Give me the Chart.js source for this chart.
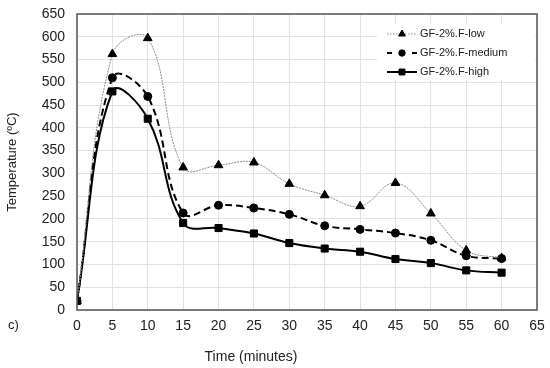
<!DOCTYPE html>
<html><head><meta charset="utf-8">
<script src="https://cdn.jsdelivr.net/npm/chart.js@4"></script>
<style>html,body{margin:0;padding:0;background:#fff}#w{width:550px;height:368px}</style>
</head><body><div id="w"><canvas id="c"></canvas></div>
<script>
const times = [0,5,10,15,20,25,30,35,40,45,50,55,60];
const lowVals = [20,562,597,313,318,324,277,252,228,279,212,131,114];
const medVals = [20,510,469,213,230,224,210,185,177,169,153,119,113];
const highVals = [20,480,420,191,180,168,147,135,128,112,103,87,82];
const seriesNames = ['GF-2%.F-low','GF-2%.F-medium','GF-2%.F-high'];
const xTicks = [0,5,10,15,20,25,30,35,40,45,50,55,60,65];
const yTicks = [0,50,100,150,200,250,300,350,400,450,500,550,600,650];
const xTitle = 'Time (minutes)';
const yTitle = 'Temperature (ºC)';
const panelLabel = 'c)';

const toPts = v => times.map((t,i)=>({x:t,y:v[i]}));
const FONT = 'Liberation Sans, Arial, sans-serif';

const datasets = [
 {label:seriesNames[0], data:toPts(lowVals), borderColor:'#8a8a8a', borderWidth:1, borderDash:[2,1],
  pointStyle:'triangle', pointRadius:5, pointBackgroundColor:'#000', pointBorderColor:'#000', pointBorderWidth:1, tension:0.4,
  legendDash:[1.5,1.5], legendRadius:4},
 {label:seriesNames[1], data:toPts(medVals), borderColor:'#000', borderWidth:2, borderDash:[7,4],
  pointStyle:'circle', pointRadius:4, pointBackgroundColor:'#000', pointBorderColor:'#000', pointBorderWidth:1, tension:0.4,
  legendDash:[5,20], legendRadius:3.2},
 {label:seriesNames[2], data:toPts(highVals), borderColor:'#000', borderWidth:2,
  pointStyle:'rect', pointRadius:5, pointBackgroundColor:'#000', pointBorderColor:'#000', pointBorderWidth:1, tension:0.4,
  legendDash:[], legendRadius:4.2}
];

const extras = {
 id:'extras',
 afterDatasetsDraw(chart){
  const ctx = chart.ctx, a = chart.chartArea;
  ctx.save();
  ctx.strokeStyle = '#555'; ctx.lineWidth = 1.5;
  ctx.strokeRect(a.left, a.top, a.right-a.left, a.bottom-a.top);
  ctx.fillStyle = '#fff';
  ctx.fillRect(377, 24, 158, 56);
  ctx.font = '11px ' + FONT;
  ctx.textBaseline = 'middle';
  chart.data.datasets.forEach((d,i)=>{
   const y = 34 + i*19;
   ctx.strokeStyle = d.borderColor; ctx.lineWidth = d.borderWidth;
   ctx.setLineDash(d.legendDash);
   ctx.beginPath(); ctx.moveTo(387,y); ctx.lineTo(417,y); ctx.stroke();
   ctx.setLineDash([]);
   ctx.fillStyle = '#000'; ctx.strokeStyle = '#000'; ctx.lineWidth = 1;
   Chart.helpers.drawPoint(ctx, {pointStyle:d.pointStyle, radius:d.legendRadius, borderWidth:1}, 402, y);
   ctx.fillStyle = '#222';
   ctx.textAlign = 'left';
   ctx.fillText(d.label, 420, y);
  });
  ctx.fillStyle = '#222';
  ctx.font = '13px ' + FONT;
  ctx.fillText(panelLabel, 8, 325);
  ctx.font = '14px ' + FONT;
  ctx.textAlign = 'center';
  ctx.fillText(xTitle, 251, 357);
  ctx.restore();
 }
};

new Chart(document.getElementById('c'), {
 type:'line',
 data:{datasets},
 options:{
  responsive:true, maintainAspectRatio:false, animation:false,
  layout:{padding:{left:0,right:13,top:14,bottom:0}},
  plugins:{legend:{display:false}, tooltip:{enabled:false}},
  scales:{
   x:{type:'linear', min:0, max:65,
      afterBuildTicks(s){ s.ticks = xTicks.map(v=>({value:v})); },
      afterFit(s){ s.height = 58; s.paddingRight = 0; s.paddingLeft = 0; },
      grid:{color:'#e2e2e2', drawTicks:false},
      border:{display:false},
      ticks:{color:'#222', font:{family:FONT, size:14}, padding:8, maxRotation:0},
      title:{display:false}},
   y:{min:0, max:650,
      afterBuildTicks(s){ s.ticks = yTicks.map(v=>({value:v})); },
      afterFit(s){ s.width = 77; s.paddingTop = 0; s.paddingBottom = 0; },
      grid:{color:'#e2e2e2', drawTicks:false},
      border:{display:false},
      ticks:{color:'#222', font:{family:FONT, size:14}, padding:12},
      title:{display:true, text:yTitle, color:'#222', font:{family:FONT, size:13}, padding:{top:5,bottom:4}}}
  }
 },
 plugins:[extras]
});
</script>
</body></html>
